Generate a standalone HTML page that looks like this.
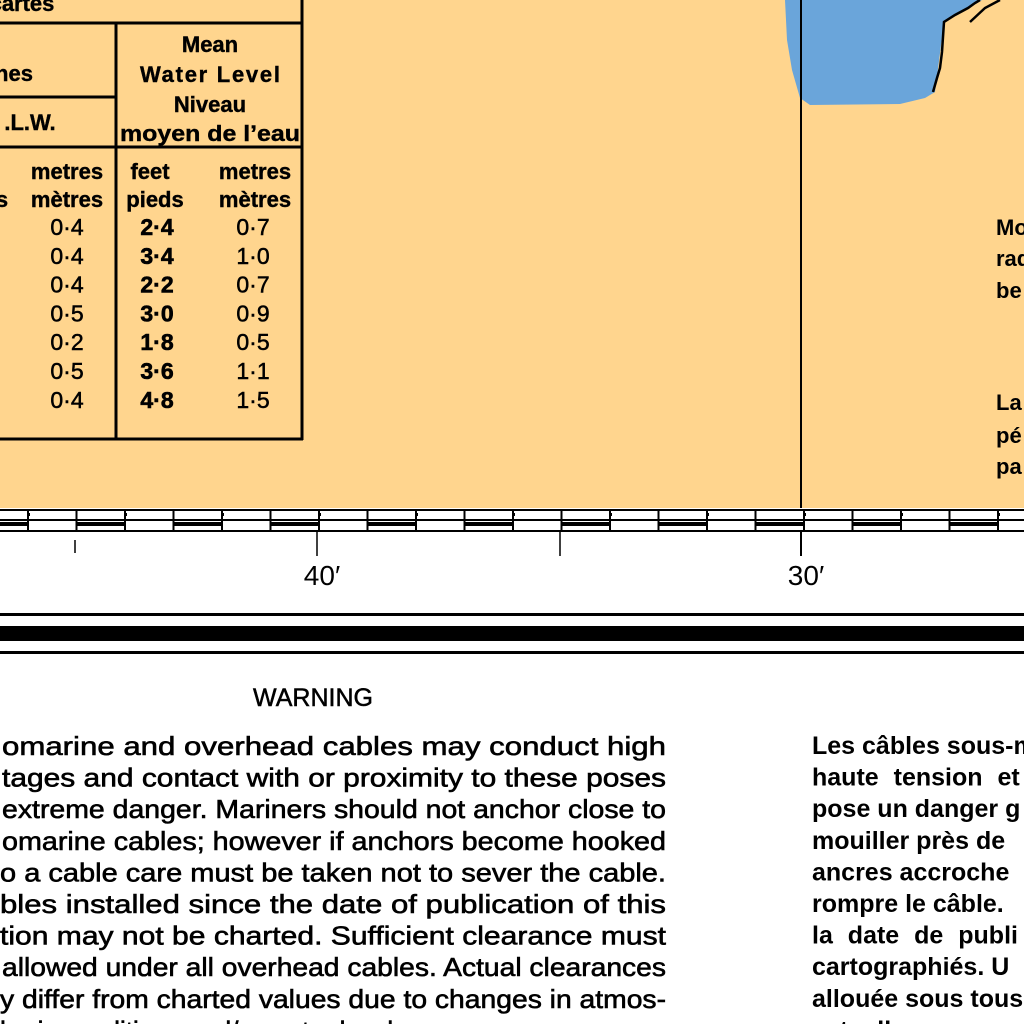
<!DOCTYPE html>
<html><head><meta charset="utf-8"><style>
html,body{margin:0;padding:0;background:#fff}
svg{display:block}
text{font-family:"Liberation Sans",sans-serif}
</style></head><body>
<svg id="chart" width="1024" height="1024" viewBox="0 0 1024 1024">
<rect x="0" y="0" width="1024" height="509" fill="#FFD58E"/>
<path d="M785,0 L787,40 L792,70 L800,98 L810,105 L900,104 L925,98 L935,92 L944,22 L975,4 L982,0 Z" fill="#6AA5DA"/>
<path d="M933,92 L937,78 L940,68 L942,52 L944,22 L955,15 L968,8 L975,3 L980,0" fill="none" stroke="#000" stroke-width="2.5"/>
<path d="M970,22 L985,8 L1000,0" fill="none" stroke="#000" stroke-width="2.5"/>
<line x1="801" y1="0" x2="801" y2="556" stroke="#000" stroke-width="2"/>
<g id="table" stroke="#000" stroke-width="3" fill="none">
<line x1="0" y1="23" x2="303" y2="23"/><line x1="302" y1="0" x2="302" y2="440"/>
<line x1="116" y1="23" x2="116" y2="440"/><line x1="0" y1="97" x2="116" y2="97"/>
<line x1="0" y1="147" x2="302" y2="147"/><line x1="0" y1="439" x2="303" y2="439"/>
</g>
<g font-weight="bold" font-size="22" fill="#000" text-anchor="middle" stroke="#000" stroke-width="0.4">
<text x="22" y="11">cartes</text>
<text x="14" y="81">nes</text>
<text x="30" y="130">.L.W.</text>
<text x="210" y="52">Mean</text>
<text x="210" y="82" textLength="140">Water Level</text>
<text x="210" y="112">Niveau</text>
<text x="210" y="141" textLength="180" lengthAdjust="spacingAndGlyphs">moyen de l’eau</text>
<text x="67" y="179">metres</text>
<text x="67" y="207">mètres</text>
<text x="2" y="207">s</text>
<text x="150" y="179">feet</text>
<text x="155" y="207">pieds</text>
<text x="255" y="179">metres</text>
<text x="255" y="207">mètres</text>
</g>
<g id="rows"></g>
<g font-weight="bold" font-size="22" fill="#000">
<text x="996" y="235">Mo</text>
<text x="996" y="266">rad</text>
<text x="996" y="298">be</text>
<text x="996" y="410">La</text>
<text x="996" y="443">pé</text>
<text x="996" y="474">pa</text>
</g>
<g id="border"></g>
<line x1="317" y1="531" x2="317" y2="556" stroke="#000" stroke-width="1.5"/>
<line x1="75" y1="540" x2="75" y2="553" stroke="#000" stroke-width="1.5"/>
<line x1="560" y1="531" x2="560" y2="556" stroke="#000" stroke-width="1.5"/>
<text x="322" y="585" font-size="28" text-anchor="middle">40′</text>
<text x="806" y="585" font-size="28" text-anchor="middle">30′</text>
<rect x="0" y="613" width="1024" height="3" fill="#000"/>
<rect x="0" y="626" width="1024" height="15" fill="#000"/>
<rect x="0" y="651" width="1024" height="3" fill="#000"/>
<text x="313" y="706" font-size="25" text-anchor="middle" stroke="#000" stroke-width="0.5">WARNING</text>
<g id="en" font-size="26" fill="#000" stroke="#000" stroke-width="0.6"></g>
<g id="fr" font-size="24" font-weight="bold" fill="#000"></g>
</svg>
<script>
const ns="http://www.w3.org/2000/svg";
const col1=["0·4","0·4","0·4","0·5","0·2","0·5","0·4"];
const colFeet=["2·4","3·4","2·2","3·0","1·8","3·6","4·8"];
const colMetres=["0·7","1·0","0·7","0·9","0·5","1·1","1·5"];
function mk(tag,attrs,txt){const e=document.createElementNS(ns,tag);for(const k in attrs)e.setAttribute(k,attrs[k]);if(txt!==undefined)e.textContent=txt;return e;}
const rows=document.getElementById('rows');
const rowY=i=>235+i*28.8;
col1.forEach((v,i)=>{
 const a=mk('text',{x:67,y:rowY(i),'font-size':23,'text-anchor':'middle',stroke:'#000','stroke-width':0.5},v);
 
 
 rows.appendChild(a);
 const b=mk('text',{x:157,y:rowY(i),'font-size':23,'font-weight':'bold','text-anchor':'middle',stroke:'#000','stroke-width':0.6},colFeet[i]);
 
 
 rows.appendChild(b);
 const c=mk('text',{x:253,y:rowY(i),'font-size':23,'text-anchor':'middle',stroke:'#000','stroke-width':0.5},colMetres[i]);
 
 
 rows.appendChild(c);
});
const bd=document.getElementById('border');
bd.appendChild(mk('rect',{x:0,y:508,width:1024,height:23,fill:'#fff'}));
[509,519,530].forEach(y=>bd.appendChild(mk('rect',{x:0,y:y,width:1024,height:2,fill:'#000'})));
for(let k=-1;k<22;k++){
 const x=27+k*48.5;
 bd.appendChild(mk('rect',{x:x,y:509,width:2,height:23,fill:'#000'}));
 if(k%2===0){bd.appendChild(mk('rect',{x:x+48.5,y:522,width:48.5,height:4,fill:'#000'}));}
 else{bd.appendChild(mk('rect',{x:x+48.5,y:513,width:3,height:3,fill:'#000'}));}
}
bd.appendChild(mk('rect',{x:0,y:522,width:27,height:4,fill:'#000'}));
const en=[["omarine and overhead cables may conduct high",2],["tages and contact with or proximity to these poses",2],["extreme danger. Mariners should not anchor close to",2],["omarine cables; however if anchors become hooked",2],["o a cable care must be taken not to sever the cable.",0],["bles installed since the date of publication of this",0],["tion may not be charted. Sufficient clearance must",0],["allowed under all overhead cables. Actual clearances",2],["y differ from charted values due to changes in atmos-",0],["heric conditions and/or water levels.",0]];
const eg=document.getElementById('en');
en.forEach((l,i)=>{
 const y=755+i*31.6;
 const attrs={x:l[1],y:y,lengthAdjust:'spacingAndGlyphs'};
 if(i<9)attrs.textLength=666-l[1];
 const t=mk('text',attrs,l[0]);
 
 
 eg.appendChild(t);
});
const fr=["Les câbles sous-m","haute tension et","pose un danger g","mouiller près de","ancres accroche","rompre le câble.","la date de publi","cartographiés. U","allouée sous tous","actuelles"];
const fg=document.getElementById('fr');
fr.forEach((l,i)=>{
 const t=mk('text',{x:812,y:754+i*31.6,'word-spacing':(i==1||i==6)?8:0,'font-size':25},l);
 
 
 fg.appendChild(t);
});
</script>
</body></html>
